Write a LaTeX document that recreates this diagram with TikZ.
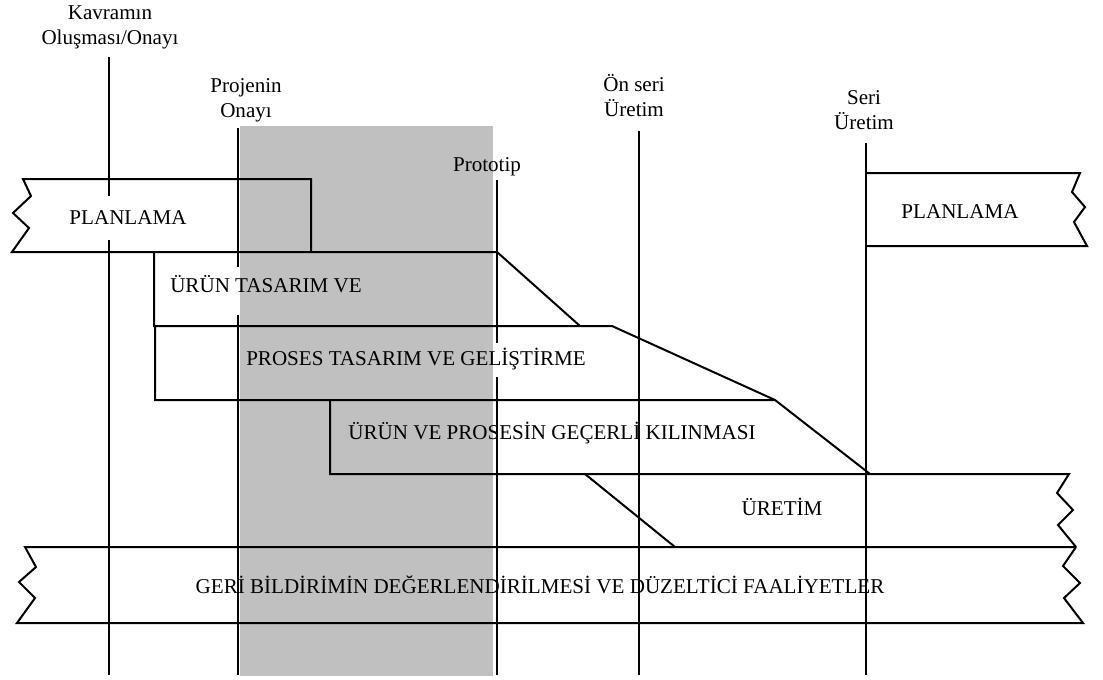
\documentclass[tikz,border=0pt]{standalone}
\usepackage{fontspec}
\setmainfont{Liberation Serif}
\begin{document}
\begin{tikzpicture}[x=0.75pt,y=0.75pt,yscale=-1,xscale=1,
  lbl/.style={font=\fontsize{15.8}{18.75}\selectfont,inner sep=0.75pt,align=center},
  ln/.style={line width=1.5}]
\useasboundingbox (0,0) rectangle (1103,679);

%Shape: Rectangle
\fill [color={rgb, 255:red, 192; green, 192; blue, 192 }] (240,126) rectangle (493,676) ;

%Straight Lines
\draw [ln] (109,57) -- (109,196) ;
\draw [ln] (109,240) -- (109,675) ;
%Straight Lines
\draw [ln] (238,128) -- (238,267) ;
\draw [ln] (238,315) -- (238,675) ;
%Straight Lines
\draw [ln] (497,180) -- (497,343) ;
\draw [ln] (497,377) -- (497,675) ;
%Straight Lines
\draw [ln] (639,131) -- (639,675) ;
%Straight Lines
\draw [ln] (866,143) -- (866,675) ;

%Shape: Polygon
\draw [ln] (311,252) -- (311,179) -- (23,179) -- (31,196) -- (13,213) -- (29,228) -- (12,252) -- (497,252) -- (580,326) ;
%Shape: Polygon
\draw [ln] (154,252) -- (154,326) -- (612,326) -- (775,400) ;
%Shape: Polygon
\draw [ln] (155,326) -- (155,400) -- (775,400) -- (870,474) ;
%Shape: Polygon
\draw [ln] (330,400) -- (330,474) -- (1069,474) -- (1057,493) -- (1073,510) -- (1058,525) -- (1076,547) ;
%Straight Lines
\draw [ln] (585,474) -- (675,547) ;
%Shape: Polygon
\draw [ln] (1076,547) -- (25,547) -- (36,567) -- (19,582) -- (35,598) -- (17,623) -- (1083,623) -- (1064,598) -- (1080,583) -- (1063,566) -- (1076,547) ;
%Shape: Polygon
\draw [ln] (866,173) -- (1080,173) -- (1072,192) -- (1085,207) -- (1074,222) -- (1087,246) -- (866,246) ;

% Text Node
\draw (110,27) node [lbl] (kavram) {Kavramın\\Oluşması/Onayı};
% Text Node
\draw (246,100) node [lbl] (projeonay) {Projenin\\Onayı};
% Text Node
\draw (487,167) node [lbl] (prototip) {Prototip};
% Text Node
\draw (634,96) node [lbl] (onseri) {Ön seri\\Üretim};
% Text Node
\draw (864,110) node [lbl] (seri) {Seri\\Üretim};
% Text Node
\draw (128,218) node [lbl] (plan1) {PLANLAMA};
% Text Node
\draw (960,212) node [lbl] (plan2) {PLANLAMA};
% Text Node
\draw (266,284) node [lbl] (urun) {ÜRÜN TASARIM VE};
% Text Node
\draw (416,359) node [lbl] (proses) {PROSES TASARIM VE GELİŞTİRME};
% Text Node
\draw (552,433) node [lbl] (gecerli) {ÜRÜN VE PROSESİN GEÇERLİ KILINMASI};
% Text Node
\draw (782,507) node [lbl] (uretim) {ÜRETİM};
% Text Node
\draw (540,585) node [lbl] (geri) {GERİ BİLDİRİMİN DEĞERLENDİRİLMESİ VE DÜZELTİCİ FAALİYETLER};

\end{tikzpicture}
\end{document}
